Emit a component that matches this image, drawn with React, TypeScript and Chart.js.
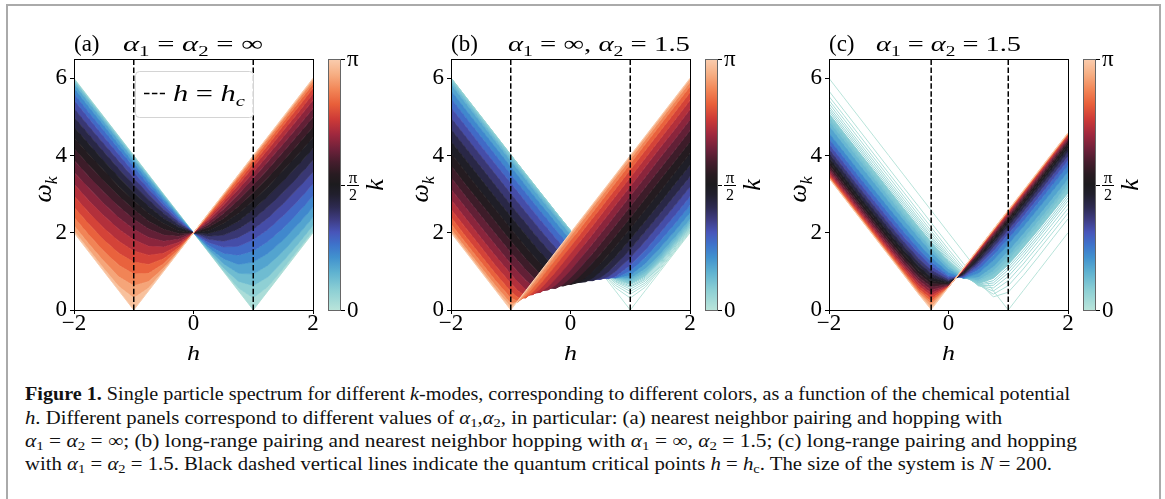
import React, { useEffect, useRef } from 'react';
import { Chart, registerables } from 'chart.js';

Chart.register(...registerables);

// ---------------- data ----------------
const hGridA = [-2, -1.75, -1.5, -1.25, -1, -0.75, -0.5, -0.25, 0, 0.25, 0.5, 0.75, 1, 1.25, 1.5, 1.75, 2];
const hGridB = [-2, -1.75, -1.5, -1.25, -1, -0.875, -0.75, -0.625, -0.5, -0.375, -0.25, -0.125, 0, 0.125, 0.25, 0.375, 0.5, 0.625, 0.75, 1, 1.25, 1.5, 1.75, 2];
const hGridC = [-2, -1.75, -1.5, -1.25, -1, -0.75, -0.5, -0.29, 0, 0.25, 0.5, 0.75, 1, 1.25, 1.5, 1.75, 2];

// k-mode index n, k = n·π/100 (N = 200)
const modesA = [0, 5, 10, 15, 20, 25, 30, 35, 40, 45, 50, 55, 60, 65, 70, 75, 80, 85, 90, 95, 100];
const modesBC = [0, 1, 2, 3, 4, 5, 6, 7, 8, 10, 12, 15, 20, 25, 30, 35, 40, 45, 50, 55, 60, 65, 70, 75, 80, 85, 90, 95, 100];
const kModeMax = 100;

// panel (a): alpha1 = alpha2 = inf
const omegaA = [
  [6.00, 5.50, 5.00, 4.50, 4.00, 3.50, 3.00, 2.50, 2.00, 1.50, 1.00, 0.50, 0.00, 0.50, 1.00, 1.50, 2.00],
  [5.98, 5.48, 4.99, 4.49, 3.99, 3.49, 2.99, 2.50, 2.00, 1.51, 1.02, 0.57, 0.31, 0.61, 1.07, 1.56, 2.05],
  [5.93, 5.44, 4.94, 4.45, 3.95, 3.46, 2.97, 2.48, 2.00, 1.53, 1.09, 0.74, 0.63, 0.86, 1.26, 1.71, 2.19],
  [5.85, 5.36, 4.87, 4.38, 3.89, 3.41, 2.93, 2.46, 2.00, 1.57, 1.20, 0.95, 0.93, 1.16, 1.52, 1.94, 2.40],
  [5.74, 5.25, 4.77, 4.28, 3.80, 3.33, 2.87, 2.42, 2.00, 1.62, 1.33, 1.18, 1.24, 1.47, 1.81, 2.22, 2.66],
  [5.60, 5.11, 4.64, 4.16, 3.70, 3.24, 2.80, 2.38, 2.00, 1.68, 1.47, 1.42, 1.53, 1.78, 2.12, 2.52, 2.95],
  [5.43, 4.95, 4.48, 4.02, 3.56, 3.13, 2.71, 2.33, 2.00, 1.75, 1.63, 1.65, 1.82, 2.09, 2.44, 2.83, 3.26],
  [5.22, 4.75, 4.30, 3.85, 3.41, 3.00, 2.61, 2.27, 2.00, 1.83, 1.78, 1.88, 2.09, 2.39, 2.75, 3.15, 3.57],
  [4.99, 4.54, 4.09, 3.65, 3.24, 2.85, 2.50, 2.21, 2.00, 1.91, 1.94, 2.10, 2.35, 2.68, 3.05, 3.45, 3.88],
  [4.74, 4.29, 3.86, 3.44, 3.04, 2.68, 2.37, 2.14, 2.00, 1.98, 2.09, 2.30, 2.60, 2.95, 3.34, 3.75, 4.18],
  [4.47, 4.03, 3.61, 3.20, 2.83, 2.50, 2.24, 2.06, 2.00, 2.06, 2.24, 2.50, 2.83, 3.20, 3.61, 4.03, 4.47],
  [4.18, 3.75, 3.34, 2.95, 2.60, 2.30, 2.09, 1.98, 2.00, 2.14, 2.37, 2.68, 3.04, 3.44, 3.86, 4.29, 4.74],
  [3.88, 3.45, 3.05, 2.68, 2.35, 2.10, 1.94, 1.91, 2.00, 2.21, 2.50, 2.85, 3.24, 3.65, 4.09, 4.54, 4.99],
  [3.57, 3.15, 2.75, 2.39, 2.09, 1.88, 1.78, 1.83, 2.00, 2.27, 2.61, 3.00, 3.41, 3.85, 4.30, 4.75, 5.22],
  [3.26, 2.83, 2.44, 2.09, 1.82, 1.65, 1.63, 1.75, 2.00, 2.33, 2.71, 3.13, 3.56, 4.02, 4.48, 4.95, 5.43],
  [2.95, 2.52, 2.12, 1.78, 1.53, 1.42, 1.47, 1.68, 2.00, 2.38, 2.80, 3.24, 3.70, 4.16, 4.64, 5.11, 5.60],
  [2.66, 2.22, 1.81, 1.47, 1.24, 1.18, 1.33, 1.62, 2.00, 2.42, 2.87, 3.33, 3.80, 4.28, 4.77, 5.25, 5.74],
  [2.40, 1.94, 1.52, 1.16, 0.93, 0.95, 1.20, 1.57, 2.00, 2.46, 2.93, 3.41, 3.89, 4.38, 4.87, 5.36, 5.85],
  [2.19, 1.71, 1.26, 0.86, 0.63, 0.74, 1.09, 1.53, 2.00, 2.48, 2.97, 3.46, 3.95, 4.45, 4.94, 5.44, 5.93],
  [2.05, 1.56, 1.07, 0.61, 0.31, 0.57, 1.02, 1.51, 2.00, 2.50, 2.99, 3.49, 3.99, 4.49, 4.98, 5.48, 5.98],
  [2.00, 1.50, 1.00, 0.50, 0.00, 0.50, 1.00, 1.50, 2.00, 2.50, 3.00, 3.50, 4.00, 4.50, 5.00, 5.50, 6.00],
];

// panel (b): alpha1 = inf, alpha2 = 1.5
const omegaB = [
  [6.00, 5.50, 5.00, 4.50, 4.00, 3.75, 3.50, 3.25, 3.00, 2.75, 2.50, 2.25, 2.00, 1.75, 1.50, 1.25, 1.00, 0.75, 0.50, 0.00, 0.50, 1.00, 1.50, 2.00],
  [6.01, 5.51, 5.01, 4.51, 4.01, 3.76, 3.51, 3.26, 3.02, 2.77, 2.52, 2.27, 2.02, 1.78, 1.53, 1.29, 1.04, 0.81, 0.58, 0.31, 0.59, 1.05, 1.53, 2.02],
  [6.01, 5.51, 5.01, 4.52, 4.02, 3.77, 3.52, 3.27, 3.02, 2.78, 2.53, 2.28, 2.04, 1.79, 1.55, 1.31, 1.08, 0.85, 0.64, 0.41, 0.65, 1.08, 1.55, 2.05],
  [6.01, 5.51, 5.01, 4.52, 4.02, 3.77, 3.52, 3.28, 3.03, 2.78, 2.54, 2.29, 2.05, 1.81, 1.57, 1.33, 1.10, 0.89, 0.69, 0.48, 0.70, 1.12, 1.58, 2.07],
  [6.01, 5.51, 5.02, 4.52, 4.02, 3.77, 3.53, 3.28, 3.03, 2.79, 2.54, 2.30, 2.06, 1.82, 1.58, 1.35, 1.12, 0.91, 0.73, 0.54, 0.75, 1.15, 1.61, 2.09],
  [6.00, 5.50, 5.01, 4.51, 4.01, 3.77, 3.52, 3.28, 3.03, 2.79, 2.54, 2.30, 2.06, 1.82, 1.59, 1.36, 1.14, 0.93, 0.75, 0.59, 0.79, 1.18, 1.63, 2.11],
  [6.00, 5.50, 5.00, 4.51, 4.01, 3.77, 3.52, 3.27, 3.03, 2.79, 2.54, 2.30, 2.06, 1.82, 1.59, 1.36, 1.15, 0.95, 0.78, 0.62, 0.82, 1.21, 1.66, 2.13],
  [5.99, 5.49, 4.99, 4.50, 4.01, 3.76, 3.51, 3.27, 3.02, 2.78, 2.54, 2.30, 2.06, 1.82, 1.59, 1.37, 1.15, 0.96, 0.79, 0.66, 0.85, 1.24, 1.68, 2.15],
  [5.98, 5.48, 4.98, 4.49, 4.00, 3.75, 3.50, 3.26, 3.02, 2.77, 2.53, 2.29, 2.05, 1.82, 1.59, 1.37, 1.16, 0.97, 0.81, 0.68, 0.88, 1.26, 1.70, 2.17],
  [5.95, 5.45, 4.96, 4.46, 3.97, 3.72, 3.48, 3.23, 2.99, 2.75, 2.51, 2.27, 2.04, 1.80, 1.58, 1.36, 1.16, 0.97, 0.83, 0.73, 0.94, 1.32, 1.75, 2.22],
  [5.91, 5.41, 4.92, 4.42, 3.93, 3.69, 3.44, 3.20, 2.96, 2.72, 2.48, 2.24, 2.01, 1.78, 1.56, 1.34, 1.15, 0.97, 0.84, 0.77, 0.99, 1.37, 1.81, 2.27],
  [5.84, 5.34, 4.85, 4.35, 3.86, 3.62, 3.38, 3.13, 2.89, 2.65, 2.42, 2.18, 1.95, 1.72, 1.51, 1.30, 1.11, 0.95, 0.84, 0.82, 1.07, 1.45, 1.89, 2.35],
  [5.68, 5.18, 4.69, 4.20, 3.71, 3.47, 3.22, 2.98, 2.74, 2.51, 2.27, 2.04, 1.81, 1.60, 1.39, 1.20, 1.03, 0.90, 0.83, 0.90, 1.20, 1.61, 2.05, 2.52],
  [5.48, 4.98, 4.49, 4.00, 3.51, 3.27, 3.03, 2.79, 2.55, 2.32, 2.08, 1.86, 1.64, 1.43, 1.23, 1.06, 0.92, 0.84, 0.83, 1.01, 1.36, 1.79, 2.24, 2.71],
  [5.24, 4.75, 4.25, 3.76, 3.28, 3.04, 2.80, 2.56, 2.32, 2.09, 1.86, 1.64, 1.43, 1.23, 1.06, 0.92, 0.83, 0.81, 0.87, 1.16, 1.55, 2.00, 2.46, 2.94],
  [4.97, 4.48, 3.99, 3.50, 3.01, 2.77, 2.53, 2.30, 2.06, 1.83, 1.61, 1.40, 1.20, 1.02, 0.89, 0.80, 0.79, 0.86, 0.99, 1.35, 1.78, 2.24, 2.71, 3.19],
  [4.68, 4.19, 3.70, 3.21, 2.72, 2.48, 2.25, 2.01, 1.78, 1.56, 1.35, 1.15, 0.97, 0.84, 0.76, 0.76, 0.84, 0.98, 1.16, 1.57, 2.03, 2.50, 2.98, 3.46],
  [4.37, 3.88, 3.39, 2.90, 2.42, 2.18, 1.95, 1.71, 1.49, 1.28, 1.08, 0.90, 0.78, 0.71, 0.73, 0.83, 0.99, 1.17, 1.38, 1.83, 2.30, 2.78, 3.27, 3.75],
  [4.06, 3.56, 3.07, 2.59, 2.11, 1.87, 1.64, 1.41, 1.20, 1.00, 0.83, 0.71, 0.66, 0.71, 0.83, 1.00, 1.20, 1.41, 1.64, 2.11, 2.59, 3.07, 3.56, 4.05],
  [3.74, 3.24, 2.76, 2.27, 1.79, 1.56, 1.33, 1.12, 0.92, 0.75, 0.64, 0.62, 0.68, 0.83, 1.02, 1.23, 1.45, 1.68, 1.91, 2.39, 2.88, 3.37, 3.86, 4.36],
  [3.43, 2.93, 2.44, 1.96, 1.49, 1.26, 1.04, 0.84, 0.67, 0.57, 0.56, 0.66, 0.83, 1.03, 1.25, 1.47, 1.71, 1.95, 2.19, 2.68, 3.17, 3.66, 4.15, 4.65],
  [3.13, 2.64, 2.15, 1.67, 1.20, 0.98, 0.77, 0.60, 0.50, 0.52, 0.64, 0.82, 1.03, 1.26, 1.49, 1.73, 1.97, 2.21, 2.46, 2.95, 3.44, 3.94, 4.43, 4.93],
  [2.86, 2.36, 1.87, 1.39, 0.93, 0.71, 0.53, 0.43, 0.46, 0.60, 0.80, 1.02, 1.25, 1.49, 1.73, 1.97, 2.22, 2.46, 2.71, 3.20, 3.70, 4.20, 4.69, 5.19],
  [2.61, 2.12, 1.63, 1.14, 0.69, 0.49, 0.37, 0.40, 0.55, 0.76, 0.98, 1.22, 1.46, 1.70, 1.95, 2.19, 2.44, 2.69, 2.94, 3.43, 3.93, 4.43, 4.93, 5.43],
  [2.40, 1.90, 1.41, 0.93, 0.48, 0.32, 0.31, 0.47, 0.68, 0.91, 1.15, 1.40, 1.64, 1.89, 2.14, 2.39, 2.63, 2.88, 3.13, 3.63, 4.13, 4.63, 5.13, 5.63],
  [2.23, 1.73, 1.24, 0.75, 0.31, 0.22, 0.36, 0.58, 0.81, 1.06, 1.30, 1.55, 1.80, 2.04, 2.29, 2.54, 2.79, 3.04, 3.29, 3.79, 4.29, 4.79, 5.29, 5.79],
  [2.10, 1.60, 1.11, 0.62, 0.17, 0.21, 0.43, 0.67, 0.91, 1.16, 1.41, 1.66, 1.91, 2.16, 2.41, 2.66, 2.91, 3.16, 3.41, 3.90, 4.40, 4.90, 5.40, 5.90],
  [2.03, 1.53, 1.03, 0.53, 0.08, 0.24, 0.48, 0.73, 0.98, 1.23, 1.48, 1.73, 1.98, 2.23, 2.48, 2.73, 2.98, 3.23, 3.48, 3.98, 4.48, 4.98, 5.48, 5.98],
  [2.00, 1.50, 1.00, 0.50, 0.00, 0.25, 0.50, 0.75, 1.00, 1.25, 1.50, 1.75, 2.00, 2.25, 2.50, 2.75, 3.00, 3.25, 3.50, 4.00, 4.50, 5.00, 5.50, 6.00],
];

// panel (c): alpha1 = alpha2 = 1.5
const omegaC = [
  [6.00, 5.50, 5.00, 4.50, 4.00, 3.50, 3.00, 2.58, 2.00, 1.50, 1.00, 0.50, 0.00, 0.50, 1.00, 1.50, 2.00],
  [5.67, 5.17, 4.67, 4.17, 3.67, 3.17, 2.68, 2.26, 1.69, 1.20, 0.73, 0.34, 0.46, 0.89, 1.37, 1.87, 2.36],
  [5.53, 5.04, 4.54, 4.04, 3.54, 3.05, 2.55, 2.14, 1.57, 1.10, 0.66, 0.41, 0.63, 1.06, 1.54, 2.02, 2.51],
  [5.43, 4.94, 4.44, 3.94, 3.45, 2.95, 2.46, 2.05, 1.49, 1.03, 0.64, 0.49, 0.76, 1.19, 1.66, 2.14, 2.63],
  [5.35, 4.85, 4.35, 3.86, 3.36, 2.87, 2.38, 1.98, 1.42, 0.98, 0.63, 0.57, 0.87, 1.30, 1.77, 2.25, 2.74],
  [5.27, 4.78, 4.28, 3.79, 3.29, 2.80, 2.32, 1.91, 1.37, 0.94, 0.63, 0.64, 0.96, 1.39, 1.86, 2.34, 2.83],
  [5.21, 4.71, 4.22, 3.72, 3.23, 2.74, 2.26, 1.86, 1.32, 0.91, 0.65, 0.70, 1.04, 1.47, 1.93, 2.41, 2.90],
  [5.15, 4.65, 4.16, 3.66, 3.17, 2.68, 2.20, 1.81, 1.28, 0.89, 0.66, 0.76, 1.11, 1.54, 2.01, 2.48, 2.97],
  [5.09, 4.59, 4.10, 3.61, 3.12, 2.63, 2.15, 1.76, 1.25, 0.87, 0.68, 0.82, 1.17, 1.61, 2.07, 2.55, 3.03],
  [4.99, 4.49, 4.00, 3.51, 3.02, 2.54, 2.06, 1.68, 1.18, 0.84, 0.73, 0.92, 1.29, 1.73, 2.19, 2.67, 3.16],
  [4.89, 4.40, 3.91, 3.42, 2.93, 2.45, 1.98, 1.60, 1.13, 0.83, 0.78, 1.01, 1.39, 1.83, 2.30, 2.77, 3.26],
  [4.77, 4.27, 3.78, 3.30, 2.81, 2.34, 1.88, 1.50, 1.06, 0.82, 0.85, 1.12, 1.52, 1.97, 2.43, 2.91, 3.39],
  [4.58, 4.09, 3.60, 3.12, 2.64, 2.17, 1.72, 1.36, 0.97, 0.82, 0.95, 1.28, 1.70, 2.15, 2.62, 3.10, 3.58],
  [4.43, 3.94, 3.45, 2.97, 2.49, 2.02, 1.58, 1.24, 0.89, 0.84, 1.05, 1.42, 1.85, 2.30, 2.78, 3.26, 3.74],
  [4.29, 3.80, 3.31, 2.83, 2.35, 1.89, 1.46, 1.13, 0.84, 0.86, 1.13, 1.53, 1.97, 2.43, 2.91, 3.39, 3.88],
  [4.16, 3.67, 3.18, 2.70, 2.23, 1.77, 1.34, 1.03, 0.79, 0.89, 1.21, 1.62, 2.07, 2.54, 3.02, 3.51, 3.99],
  [4.05, 3.56, 3.07, 2.59, 2.11, 1.66, 1.23, 0.94, 0.75, 0.92, 1.27, 1.70, 2.16, 2.63, 3.12, 3.60, 4.09],
  [3.94, 3.45, 2.96, 2.48, 2.01, 1.55, 1.13, 0.85, 0.72, 0.94, 1.33, 1.77, 2.24, 2.72, 3.20, 3.69, 4.18],
  [3.85, 3.36, 2.87, 2.39, 1.91, 1.45, 1.03, 0.76, 0.69, 0.97, 1.38, 1.83, 2.30, 2.79, 3.27, 3.77, 4.26],
  [3.77, 3.27, 2.78, 2.30, 1.82, 1.36, 0.94, 0.68, 0.67, 0.99, 1.42, 1.88, 2.36, 2.85, 3.34, 3.83, 4.33],
  [3.69, 3.20, 2.71, 2.22, 1.74, 1.28, 0.85, 0.60, 0.65, 1.01, 1.46, 1.93, 2.41, 2.90, 3.39, 3.89, 4.38],
  [3.63, 3.13, 2.64, 2.15, 1.67, 1.20, 0.77, 0.52, 0.63, 1.03, 1.49, 1.97, 2.45, 2.95, 3.44, 3.94, 4.43],
  [3.57, 3.08, 2.58, 2.09, 1.60, 1.13, 0.69, 0.44, 0.62, 1.04, 1.51, 2.00, 2.49, 2.98, 3.48, 3.98, 4.47],
  [3.52, 3.03, 2.53, 2.04, 1.55, 1.07, 0.62, 0.37, 0.61, 1.06, 1.54, 2.03, 2.52, 3.02, 3.51, 4.01, 4.51],
  [3.48, 2.99, 2.49, 1.99, 1.50, 1.01, 0.55, 0.29, 0.60, 1.07, 1.55, 2.05, 2.54, 3.04, 3.54, 4.04, 4.54],
  [3.45, 2.95, 2.46, 1.96, 1.46, 0.97, 0.50, 0.22, 0.59, 1.08, 1.57, 2.06, 2.56, 3.06, 3.56, 4.06, 4.56],
  [3.43, 2.93, 2.43, 1.93, 1.44, 0.94, 0.45, 0.15, 0.59, 1.08, 1.58, 2.08, 2.58, 3.07, 3.57, 4.07, 4.57],
  [3.42, 2.92, 2.42, 1.92, 1.42, 0.92, 0.42, 0.07, 0.59, 1.08, 1.58, 2.08, 2.58, 3.08, 3.58, 4.08, 4.58],
  [3.41, 2.91, 2.41, 1.91, 1.41, 0.91, 0.41, 0.01, 0.59, 1.09, 1.59, 2.09, 2.59, 3.09, 3.59, 4.09, 4.59],
];

const criticalA = [-1, 1];
const criticalB = [-1, 1];
const criticalC = [-0.29, 1];

const xTickValues = [-2, 0, 2];
const xTickLabels = ['\u22122', '0', '2'];
const yTickValues = [0, 2, 4, 6];
const yTickLabels = ['0', '2', '4', '6'];

// ---------------- styling helpers ----------------
const SERIF = '"Liberation Serif", "Times New Roman", serif';
const ICEFIRE: [number, number, number, number][] = [
  [0.0, 185, 228, 218], [0.08, 140, 207, 212], [0.15, 95, 178, 208], [0.21, 65, 145, 206],
  [0.26, 62, 115, 203], [0.31, 72, 85, 185], [0.36, 62, 60, 130], [0.41, 45, 42, 80],
  [0.46, 33, 31, 45], [0.5, 28, 27, 30], [0.54, 40, 27, 33], [0.59, 70, 29, 45],
  [0.64, 110, 33, 58], [0.7, 160, 40, 62], [0.76, 205, 58, 55], [0.82, 232, 95, 58],
  [0.88, 242, 135, 88], [0.94, 246, 175, 132], [1.0, 250, 205, 175],
];
function cmap(t: number): string {
  const u = Math.max(0, Math.min(1, t));
  for (let i = 1; i < ICEFIRE.length; i++) {
    const [t1, r1, g1, b1] = ICEFIRE[i];
    const [t0, r0, g0, b0] = ICEFIRE[i - 1];
    if (u <= t1) {
      const f = (u - t0) / (t1 - t0);
      return `rgb(${Math.round(r0 + (r1 - r0) * f)},${Math.round(g0 + (g1 - g0) * f)},${Math.round(b0 + (b1 - b0) * f)})`;
    }
  }
  const l = ICEFIRE[ICEFIRE.length - 1];
  return `rgb(${l[1]},${l[2]},${l[3]})`;
}

type Run = { t: string; it?: boolean; sub?: boolean };
const fontOf = (size: number, it?: boolean) => `${it ? 'italic ' : ''}${size}px ${SERIF}`;
function runsWidth(ctx: CanvasRenderingContext2D, runs: Run[], size: number) {
  let w = 0;
  for (const r of runs) {
    ctx.font = fontOf(r.sub ? size * 0.68 : size, r.it);
    w += ctx.measureText(r.t).width;
  }
  return w;
}
function drawRuns(ctx: CanvasRenderingContext2D, runs: Run[], x: number, y: number, size: number,
  opts: { align?: 'left' | 'center'; width?: number; rotate?: boolean } = {}) {
  const w = runsWidth(ctx, runs, size);
  const sx = opts.width ? opts.width / w : 1;
  ctx.save();
  ctx.translate(x, y);
  if (opts.rotate) ctx.rotate(-Math.PI / 2);
  ctx.scale(sx, 1);
  ctx.textAlign = 'left';
  ctx.textBaseline = 'alphabetic';
  ctx.fillStyle = '#000';
  let cx = opts.align === 'center' ? -w / 2 : 0;
  for (const r of runs) {
    const s = r.sub ? size * 0.68 : size;
    ctx.font = fontOf(s, r.it);
    ctx.fillText(r.t, cx, r.sub ? size * 0.22 : 0);
    cx += ctx.measureText(r.t).width;
  }
  ctx.restore();
}

type PanelCfg = {
  id: string; left: number; h: number[]; modes: number[]; omega: number[][]; crit: number[];
  lineOnlyMax: number; math: Run[]; mathOffset: number; mathWidth: number; legend: boolean;
};

const panels: PanelCfg[] = [
  {
    id: 'a', left: 74, h: hGridA, modes: modesA, omega: omegaA, crit: criticalA, lineOnlyMax: 0,
    math: [{ t: '\u03b1', it: true }, { t: '1', sub: true }, { t: ' = ' }, { t: '\u03b1', it: true }, { t: '2', sub: true }, { t: ' = \u221e' }],
    mathOffset: 49, mathWidth: 140, legend: true,
  },
  {
    id: 'b', left: 451, h: hGridB, modes: modesBC, omega: omegaB, crit: criticalB, lineOnlyMax: 8,
    math: [{ t: '\u03b1', it: true }, { t: '1', sub: true }, { t: ' = \u221e, ' }, { t: '\u03b1', it: true }, { t: '2', sub: true }, { t: ' = 1.5' }],
    mathOffset: 57, mathWidth: 182, legend: false,
  },
  {
    id: 'c', left: 829, h: hGridC, modes: modesBC, omega: omegaC, crit: criticalC, lineOnlyMax: 8,
    math: [{ t: '\u03b1', it: true }, { t: '1', sub: true }, { t: ' = ' }, { t: '\u03b1', it: true }, { t: '2', sub: true }, { t: ' = 1.5' }],
    mathOffset: 47, mathWidth: 145, legend: false,
  },
];

function buildDatasets(p: PanelCfg) {
  const ds: any[] = [];
  for (const hc of p.crit) {
    ds.push({
      data: [{ x: hc, y: 0 }, { x: hc, y: 6.5 }], borderColor: '#000', borderWidth: 1.5,
      borderDash: [5.5, 2.4], fill: false, pointRadius: 0,
    });
  }
  for (let i = p.modes.length - 1; i >= 0; i--) {
    const n = p.modes[i];
    const filled = i > 0 && n > p.lineOnlyMax;
    const mid = filled ? (n + p.modes[i - 1]) / 2 : n;
    ds.push({
      data: p.h.map((h, j) => ({ x: h, y: p.omega[i][j] })),
      borderColor: cmap(n / kModeMax),
      backgroundColor: cmap(mid / kModeMax),
      borderWidth: 1,
      fill: filled ? '+1' : false,
      pointRadius: 0,
      tension: 0,
    });
  }
  return ds;
}

function decorPlugin(p: PanelCfg) {
  return {
    id: 'decor' + p.id,
    afterDraw(chart: any) {
      const ctx: CanvasRenderingContext2D = chart.ctx;
      const a = chart.chartArea;
      ctx.save();
      // spines
      ctx.strokeStyle = '#000';
      ctx.lineWidth = 1;
      ctx.setLineDash([]);
      ctx.strokeRect(a.left + 0.5, a.top + 0.5, a.right - a.left, a.bottom - a.top);

      // title
      drawRuns(ctx, [{ t: '(' + p.id + ')' }], a.left, 51, 23);
      drawRuns(ctx, p.math, a.left + p.mathOffset, 51, 22, { width: p.mathWidth });

      // axis labels
      drawRuns(ctx, [{ t: '\u03c9', it: true }, { t: 'k', it: true, sub: true }], a.left - 23, (a.top + a.bottom) / 2 + 5, 26,
        { align: 'center', rotate: true });
      drawRuns(ctx, [{ t: 'h', it: true }], (a.left + a.right) / 2, 360, 21, { align: 'center', width: 13 });

      // colorbar
      const x0 = a.right + 15;
      const cw = 13;
      const g = ctx.createLinearGradient(0, a.bottom, 0, a.top);
      for (const s of ICEFIRE) g.addColorStop(s[0], `rgb(${s[1]},${s[2]},${s[3]})`);
      ctx.fillStyle = g;
      ctx.fillRect(x0, a.top, cw, a.bottom - a.top + 1);
      ctx.strokeStyle = '#666';
      ctx.lineWidth = 1;
      ctx.strokeRect(x0 + 0.5, a.top + 0.5, cw - 1, a.bottom - a.top);
      const yMid = Math.round((a.top + a.bottom) / 2);
      ctx.strokeStyle = '#000';
      ctx.beginPath();
      for (const y of [a.top, yMid, a.bottom]) {
        ctx.moveTo(x0 + cw, y + 0.5);
        ctx.lineTo(x0 + cw + 4, y + 0.5);
      }
      ctx.stroke();
      ctx.fillStyle = '#000';
      ctx.font = fontOf(23);
      ctx.textAlign = 'left';
      ctx.textBaseline = 'middle';
      ctx.fillText('0', x0 + cw + 6, a.bottom + 1);
      ctx.fillText('\u03c0', x0 + cw + 6, a.top + 1);
      drawRuns(ctx, [{ t: '\u03c0' }], x0 + cw + 12, yMid - 2, 17, { align: 'center' });
      ctx.fillRect(x0 + cw + 6, yMid, 12, 1);
      drawRuns(ctx, [{ t: '2' }], x0 + cw + 12, yMid + 15, 16, { align: 'center' });
      drawRuns(ctx, [{ t: 'k', it: true }], x0 + 55, yMid, 26, { align: 'center', rotate: true });

      // legend
      if (p.legend) {
        const lx = a.left + 61, ly = 71, lw = 118, lh = 46;
        ctx.beginPath();
        (ctx as any).roundRect(lx + 0.5, ly + 0.5, lw, lh, 4);
        ctx.fillStyle = 'rgba(255,255,255,0.8)';
        ctx.fill();
        ctx.strokeStyle = '#d4d4d4';
        ctx.lineWidth = 1;
        ctx.stroke();
        ctx.beginPath();
        ctx.setLineDash([5.5, 2.4]);
        ctx.lineWidth = 1.5;
        ctx.strokeStyle = '#000';
        ctx.moveTo(a.left + 70, 93.5);
        ctx.lineTo(a.left + 91, 93.5);
        ctx.stroke();
        ctx.setLineDash([]);
        drawRuns(ctx, [{ t: 'h', it: true }, { t: ' = ' }, { t: 'h', it: true }, { t: 'c', it: true, sub: true }],
          a.left + 99, 101, 23, { width: 72 });
      }
      ctx.restore();
    },
  };
}

function Panel({ p }: { p: PanelCfg }) {
  const ref = useRef<HTMLCanvasElement>(null);
  useEffect(() => {
    const tickFont = { family: SERIF, size: 23, lineHeight: 1 };
    const chart = new Chart(ref.current as HTMLCanvasElement, {
      type: 'line',
      data: { datasets: buildDatasets(p) },
      options: {
        animation: false,
        responsive: false,
        devicePixelRatio: 1,
        layout: { padding: { left: 0, right: 91, top: 59, bottom: 0 } },
        plugins: { legend: { display: false }, tooltip: { enabled: false }, title: { display: false } },
        elements: { point: { radius: 0 }, line: { tension: 0 } },
        scales: {
          x: {
            type: 'linear', min: -2, max: 2,
            afterBuildTicks: (s: any) => { s.ticks = xTickValues.map((v) => ({ value: v })); },
            afterFit: (s: any) => { s.height = 70; },
            ticks: {
              callback: (v: any) => xTickLabels[xTickValues.indexOf(Number(v))],
              font: tickFont, color: '#000', padding: -2, maxRotation: 0, minRotation: 0, autoSkip: false,
            },
            grid: { display: true, drawOnChartArea: false, drawTicks: true, tickLength: 4, color: '#000' },
            border: { display: true, color: '#000', width: 1 },
          },
          y: {
            type: 'linear', min: 0, max: 6.5,
            afterBuildTicks: (s: any) => { s.ticks = yTickValues.map((v) => ({ value: v })); },
            afterFit: (s: any) => { s.width = 70; },
            ticks: {
              callback: (v: any) => yTickLabels[yTickValues.indexOf(Number(v))],
              font: tickFont, color: '#000', padding: 3, autoSkip: false,
            },
            grid: { display: true, drawOnChartArea: false, drawTicks: true, tickLength: 4, color: '#000' },
            border: { display: true, color: '#000', width: 1 },
          },
        },
      } as any,
      plugins: [decorPlugin(p)],
    });
    return () => chart.destroy();
  }, [p]);
  return (
    <canvas ref={ref} width={400} height={380}
      style={{ position: 'absolute', left: p.left - 70, top: 0, width: 400, height: 380 }} />
  );
}

const subStyle: React.CSSProperties = { fontSize: '0.7em', verticalAlign: '-0.25em', lineHeight: 0 };
const A1 = <><i>α</i><sub style={subStyle}>1</sub></>;
const A2 = <><i>α</i><sub style={subStyle}>2</sub></>;

const captionLines: { top: number; width: number; content: React.ReactNode }[] = [
  {
    top: 382, width: 1045,
    content: <><b>Figure 1.</b> Single particle spectrum for different <i>k</i>-modes, corresponding to different colors, as a function of the chemical potential</>,
  },
  {
    top: 406, width: 977,
    content: <><i>h</i>. Different panels correspond to different values of {A1},{A2}, in particular: (a) nearest neighbor pairing and hopping with</>,
  },
  {
    top: 429, width: 1052,
    content: <>{A1} = {A2} = ∞; (b) long-range pairing and nearest neighbor hopping with {A1} = ∞, {A2} = 1.5; (c) long-range pairing and hopping</>,
  },
  {
    top: 452, width: 1027,
    content: <>with {A1} = {A2} = 1.5. Black dashed vertical lines indicate the quantum critical points <i>h</i> = <i>h</i><sub style={subStyle}>c</sub>. The size of the system is <i>N</i> = 200.</>,
  },
];

function Caption() {
  const refs = useRef<(HTMLDivElement | null)[]>([]);
  useEffect(() => {
    refs.current.forEach((el, i) => {
      if (!el) return;
      el.style.transform = 'none';
      const w = el.getBoundingClientRect().width;
      if (w > 0) el.style.transform = `scaleX(${captionLines[i].width / w})`;
    });
  }, []);
  return (
    <>
      {captionLines.map((l, i) => (
        <div key={i} ref={(el) => { refs.current[i] = el; }}
          style={{
            position: 'absolute', left: 25, top: l.top, whiteSpace: 'nowrap', transformOrigin: '0 0',
            font: `19px ${SERIF}`, lineHeight: '23px', color: '#111',
          }}>
          {l.content}
        </div>
      ))}
    </>
  );
}

export default function App() {
  return (
    <div style={{ position: 'absolute', left: 0, top: 0, width: 1165, height: 499, overflow: 'hidden', background: '#fff' }}>
      <div style={{
        position: 'absolute', left: 6, top: 4, width: 1151, height: 600,
        borderLeft: '2px solid #aaa', borderTop: '2px solid #aaa', borderRight: '2px solid #aaa',
      }} />
      {panels.map((p) => <Panel key={p.id} p={p} />)}
      <Caption />
    </div>
  );
}
